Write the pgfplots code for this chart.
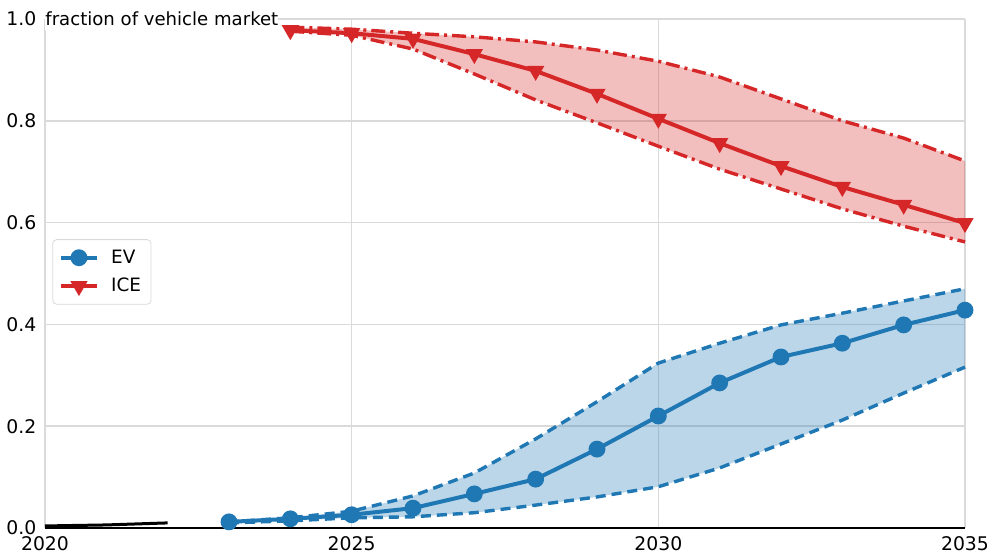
\documentclass[border=0pt]{standalone}
\usepackage{fontspec}
\setmainfont{DejaVu Sans}
\usepackage{pgfplots}
\pgfplotsset{compat=1.18}
\usepgfplotslibrary{fillbetween}
\definecolor{tabblue}{HTML}{1F77B4}
\definecolor{tabred}{HTML}{D62728}
\definecolor{gridgray}{HTML}{DADADA}
\begin{document}
\fontsize{9.4}{11.5}\selectfont
\begin{tikzpicture}
\begin{axis}[
  scale only axis, width=460pt, height=254.5pt,
  xmin=2020, xmax=2035, ymin=0, ymax=1,
  xtick={2020,2025,2030,2035},
  ytick={0,0.2,0.4,0.6,0.8,1.0},
  yticklabels={0.0,0.2,0.4,0.6,0.8,1.0},
  xticklabel style={/pgf/number format/1000 sep=},
  /pgf/number format/assume math mode=true,
  tick label style={font=\fontsize{9.4}{11.5}\selectfont},
  axis lines*=left,
  y axis line style={draw=none},
  x axis line style={black, line width=0.7pt},
  major tick length=0pt,
  grid=major,
  grid style={gridgray, line width=0.8pt},
  xticklabel style={yshift=-1pt},
  yticklabel style={xshift=-1pt},
  clip=false,
  legend style={at={(0.008,0.503)}, anchor=west, draw=gray!30, rounded corners=2pt, fill=white, font=\fontsize{9.2}{11}\selectfont, row sep=2pt, inner sep=3pt},
  legend cell align=left,
  legend image code/.code={\draw[mark repeat=2,mark phase=2,#1] plot coordinates {(0cm,0cm) (0.32cm,0cm) (0.64cm,0cm)};},
]
% historical
\addplot[black, line width=1.5pt, forget plot] coordinates {(2020,0.004) (2021,0.006) (2022,0.010)};
% EV band
\addplot[name path=evu, tabblue, line width=1.7pt, dash pattern=on 5pt off 3pt, forget plot] coordinates {
(2023,0.012) (2024,0.020) (2025,0.033) (2026,0.063) (2027,0.108) (2028,0.175) (2029,0.248) (2030,0.324) (2031,0.363) (2032,0.399) (2033,0.422) (2034,0.446) (2035,0.470)};
\addplot[name path=evl, tabblue, line width=1.7pt, dash pattern=on 5pt off 3pt, forget plot] coordinates {
(2023,0.010) (2024,0.014) (2025,0.020) (2026,0.022) (2027,0.030) (2028,0.045) (2029,0.061) (2030,0.081) (2031,0.118) (2032,0.165) (2033,0.212) (2034,0.265) (2035,0.316)};
\addplot[tabblue, fill opacity=0.3, draw=none, forget plot] fill between[of=evu and evl];
% ICE band
\addplot[name path=iceu, tabred, line width=1.7pt, dash pattern=on 7pt off 2.5pt on 1.5pt off 2.5pt, forget plot] coordinates {
(2024,0.984) (2025,0.980) (2026,0.972) (2027,0.965) (2028,0.955) (2029,0.939) (2030,0.917) (2031,0.886) (2032,0.843) (2033,0.800) (2034,0.766) (2035,0.721)};
\addplot[name path=icel, tabred, line width=1.7pt, dash pattern=on 7pt off 2.5pt on 1.5pt off 2.5pt, forget plot] coordinates {
(2024,0.976) (2025,0.968) (2026,0.941) (2027,0.892) (2028,0.841) (2029,0.796) (2030,0.750) (2031,0.705) (2032,0.666) (2033,0.627) (2034,0.593) (2035,0.562)};
\addplot[tabred, fill opacity=0.3, draw=none, forget plot] fill between[of=iceu and icel];
% central lines
\addplot[tabblue, line width=2pt, mark=*, mark size=3.2pt, mark options={solid}] coordinates {
(2023,0.012) (2024,0.018) (2025,0.026) (2026,0.039) (2027,0.067) (2028,0.096) (2029,0.155) (2030,0.220) (2031,0.285) (2032,0.336) (2033,0.363) (2034,0.399) (2035,0.428)};
\addlegendentry{\hspace{4pt}EV}
\addplot[tabred, line width=2pt, mark=triangle*, mark size=3pt, mark options={solid, rotate=180}] coordinates {
(2024,0.978) (2025,0.972) (2026,0.961) (2027,0.931) (2028,0.898) (2029,0.853) (2030,0.804) (2031,0.756) (2032,0.711) (2033,0.670) (2034,0.635) (2035,0.599)};
\addlegendentry{\hspace{4pt}ICE}
\node[anchor=west, fill=white, inner xsep=0pt, inner ysep=2pt, font=\fontsize{9.05}{11}\selectfont] at (axis cs:2020,1) {fraction of vehicle market};
\end{axis}
\pgfresetboundingbox
\path (current axis.south west) ++(-22.5pt,-13.8pt) coordinate (bbsw);
\path (current axis.north east) ++(11pt,9.5pt) coordinate (bbne);
\useasboundingbox (bbsw) rectangle (bbne);
\end{tikzpicture}
\end{document}
